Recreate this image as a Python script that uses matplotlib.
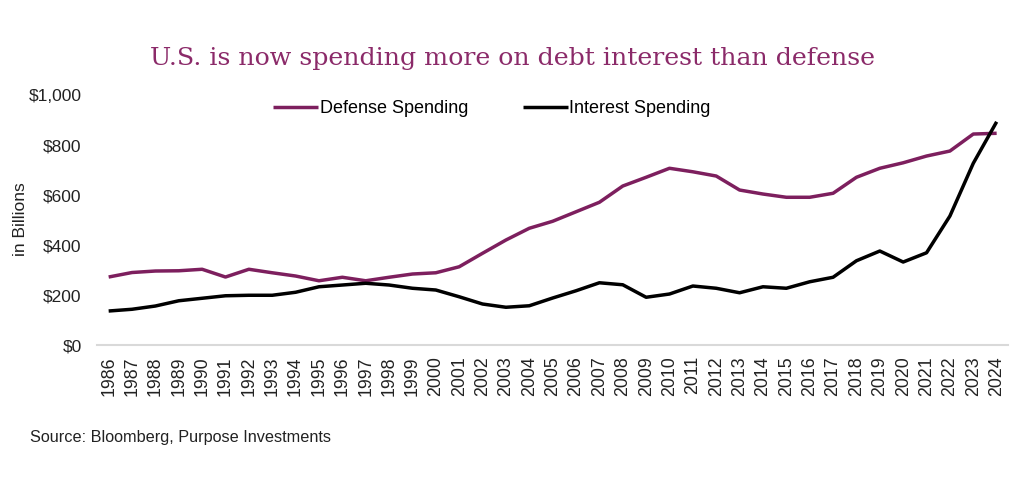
import matplotlib.pyplot as plt
from matplotlib.ticker import FuncFormatter

# Data ($ billions)
years = list(range(1986, 2025))
defense = [272, 290, 296, 297, 303, 272, 303, 289, 276, 257,
           271, 257, 271, 284, 289, 313, 367, 420, 467, 495,
           533, 571, 636, 671, 707, 693, 676, 620, 604, 591,
           591, 607, 671, 707, 729, 756, 776, 844, 847]
interest = [136, 143, 156, 177, 187, 197, 199, 199, 211, 233,
            240, 247, 240, 227, 220, 193, 164, 151, 157, 188,
            217, 249, 241, 191, 204, 236, 227, 209, 233, 227,
            253, 271, 337, 376, 332, 369, 516, 727, 893]

purple = '#7D1F5E'
sans = 'Liberation Sans'
txt = '#222222'

def main():
    fig = plt.figure(figsize=(10.24, 4.94), dpi=100)
    ax = fig.add_axes([0.0947, 0.3016, 0.890, 0.506])

    x = range(len(years))
    ax.plot(x, defense, color=purple, lw=2.5, label='Defense Spending', solid_capstyle='butt')
    ax.plot(x, interest, color='black', lw=2.5, label='Interest Spending', solid_capstyle='butt')

    ax.set_xlim(-0.5, len(years) - 0.5)
    ax.set_ylim(0, 1000)
    ax.set_yticks(range(0, 1001, 200))
    ax.yaxis.set_major_formatter(FuncFormatter(lambda v, p: f'${v:,.0f}'))
    ax.set_xticks(list(x))
    ax.set_xticklabels([str(y) for y in years], rotation=90)
    ax.tick_params(length=0, colors=txt)
    ax.tick_params(axis='y', pad=11, labelsize=12.5)
    ax.tick_params(axis='x', pad=8, labelsize=12.8)
    for lab in ax.get_xticklabels() + ax.get_yticklabels():
        lab.set_family(sans)

    for s in ['top', 'right', 'left']:
        ax.spines[s].set_visible(False)
    ax.spines['bottom'].set_color('#D9D9D9')
    ax.spines['bottom'].set_linewidth(1.5)

    ax.set_ylabel('in Billions', family=sans, fontsize=12.5, color=txt)
    ax.yaxis.set_label_coords(-0.0757, 0.502)

    ax.legend(loc='upper center', bbox_to_anchor=(0.4334, 1.045), ncol=2, frameon=False,
              prop={'family': sans, 'size': 13}, handlelength=2.5, handletextpad=0.1,
              columnspacing=3.0)

    fig.text(0.5, 0.868, 'U.S. is now spending more on debt interest than defense',
             ha='center', va='baseline', color='#8B2A69', family='DejaVu Serif', fontsize=18.2)
    fig.text(0.029, 0.115, 'Source: Bloomberg, Purpose Investments', family=sans,
             fontsize=11.7, color=txt, va='center')

    fig.savefig('out.png', dpi=100)

if __name__ == '__main__':
    main()
